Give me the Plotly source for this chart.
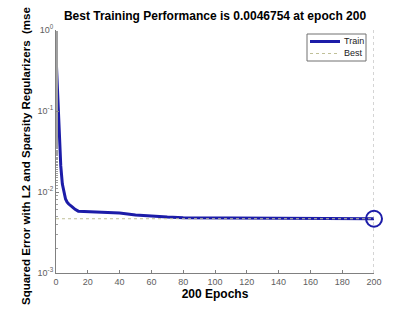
import plotly.graph_objects as go

epochs = [0, 1, 2, 3, 4, 5, 6, 7, 8, 10, 12, 14, 20, 30, 40, 50, 60, 70, 80, 100, 120, 140, 160, 180, 200]
train_mse = [0.49, 0.16, 0.05, 0.021, 0.0125, 0.0095, 0.0082, 0.0075, 0.0071, 0.0066, 0.0061, 0.0058,
             0.00575, 0.0057, 0.0055, 0.0052, 0.0050, 0.0049, 0.00482, 0.00478, 0.00476, 0.00474,
             0.00472, 0.0047, 0.0046754]
best_epoch = 200
best_value = 0.0046754
x_ticks = [0, 20, 40, 60, 80, 100, 120, 140, 160, 180, 200]
y_tickvals = [1e-3, 1e-2, 1e-1, 1e0]
y_ticktext = ["10<sup>-3</sup>", "10<sup>-2</sup>", "10<sup>-1</sup>", "10<sup>0</sup>"]
legend_names = ["Train", "Best"]

blue = "#1c1ca8"
best_col = "#c0c098"
grey = "#606060"
font = "Liberation Sans, Arial, sans-serif"

W, H = 417, 312
L, R, T, B = 56, 43, 30, 39
pw, ph = W - L - R, H - T - B


def px(x):
    return (x - L) / pw


def py(y):
    return (H - B - y) / ph


fig = go.Figure()
fig.add_trace(go.Scatter(x=epochs, y=train_mse, mode="lines", name=legend_names[0],
                         line=dict(color=blue, width=3), showlegend=False))
fig.add_trace(go.Scatter(x=[epochs[0], best_epoch], y=[best_value, best_value], mode="lines",
                         name=legend_names[1], line=dict(color=best_col, width=1, dash="dot"), showlegend=False))
fig.add_trace(go.Scatter(x=[best_epoch, best_epoch], y=[y_tickvals[0], y_tickvals[-1]], mode="lines",
                         showlegend=False, line=dict(color="#a8a8a8", width=1, dash="dot")))
fig.add_trace(go.Scatter(x=[best_epoch], y=[best_value], mode="markers", showlegend=False,
                         cliponaxis=False,
                         marker=dict(symbol="circle-open", size=16, color=blue, line=dict(width=2, color=blue))))

# legend box drawn manually (compact MATLAB-style)
shapes = [
    dict(type="rect", xref="paper", yref="paper", x0=px(307), x1=px(366), y0=py(61), y1=py(34),
         line=dict(color="#707070", width=1), fillcolor="white", layer="above"),
    dict(type="line", xref="paper", yref="paper", x0=px(310), x1=px(340), y0=py(41.5), y1=py(41.5),
         line=dict(color=blue, width=3), layer="above"),
    dict(type="line", xref="paper", yref="paper", x0=px(310), x1=px(340), y0=py(53.5), y1=py(53.5),
         line=dict(color=best_col, width=1, dash="dot"), layer="above"),
]
for i, name in enumerate(legend_names):
    fig.add_annotation(text=name, xref="paper", yref="paper", x=px(342), y=py(41.5 + 12 * i),
                       xanchor="left", yanchor="middle", showarrow=False,
                       font=dict(family=font, size=9, color="#222222"))

fig.update_layout(
    width=W, height=H,
    margin=dict(l=L, r=R, t=T, b=B),
    paper_bgcolor="white", plot_bgcolor="white",
    font=dict(family=font, size=9, color=grey),
    title=dict(text="<b>Best Training Performance is 0.0046754 at epoch 200</b>",
               x=215 / W, xanchor="center", y=1 - 16 / H, yanchor="middle",
               font=dict(family=font, size=12, color="black")),
    shapes=shapes,
    showlegend=False,
)
fig.update_xaxes(range=[0, 200], tickvals=x_ticks, ticks="inside", ticklen=3,
                 showgrid=False, zeroline=False, showline=True, linecolor="#808080", linewidth=1,
                 tickcolor="#808080", tickfont=dict(size=9, color=grey),
                 title=dict(text="<b>200 Epochs</b>", font=dict(family=font, size=12, color="black"), standoff=3))
fig.update_yaxes(type="log", range=[-3, 0], tickvals=y_tickvals, ticktext=y_ticktext,
                 ticks="inside", ticklen=3, showgrid=False, zeroline=False, showline=True,
                 linecolor="#808080", linewidth=1, tickcolor="#808080",
                 tickfont=dict(size=9, color=grey),
                 minor=dict(ticks="inside", ticklen=2, tickcolor="#a0a0a0", showgrid=False))

fig.add_annotation(text="<b>Squared Error with L2 and Sparsity Regularizers  (mse</b>",
                   textangle=-90, xref="paper", yref="paper",
                   x=px(26), y=py(307), xanchor="center", yanchor="bottom",
                   showarrow=False, font=dict(family=font, size=11.5, color="black"))

fig.write_html("out.html", config={"displayModeBar": False},
               post_script="document.body.style.margin='0';document.body.style.overflow='hidden';")
